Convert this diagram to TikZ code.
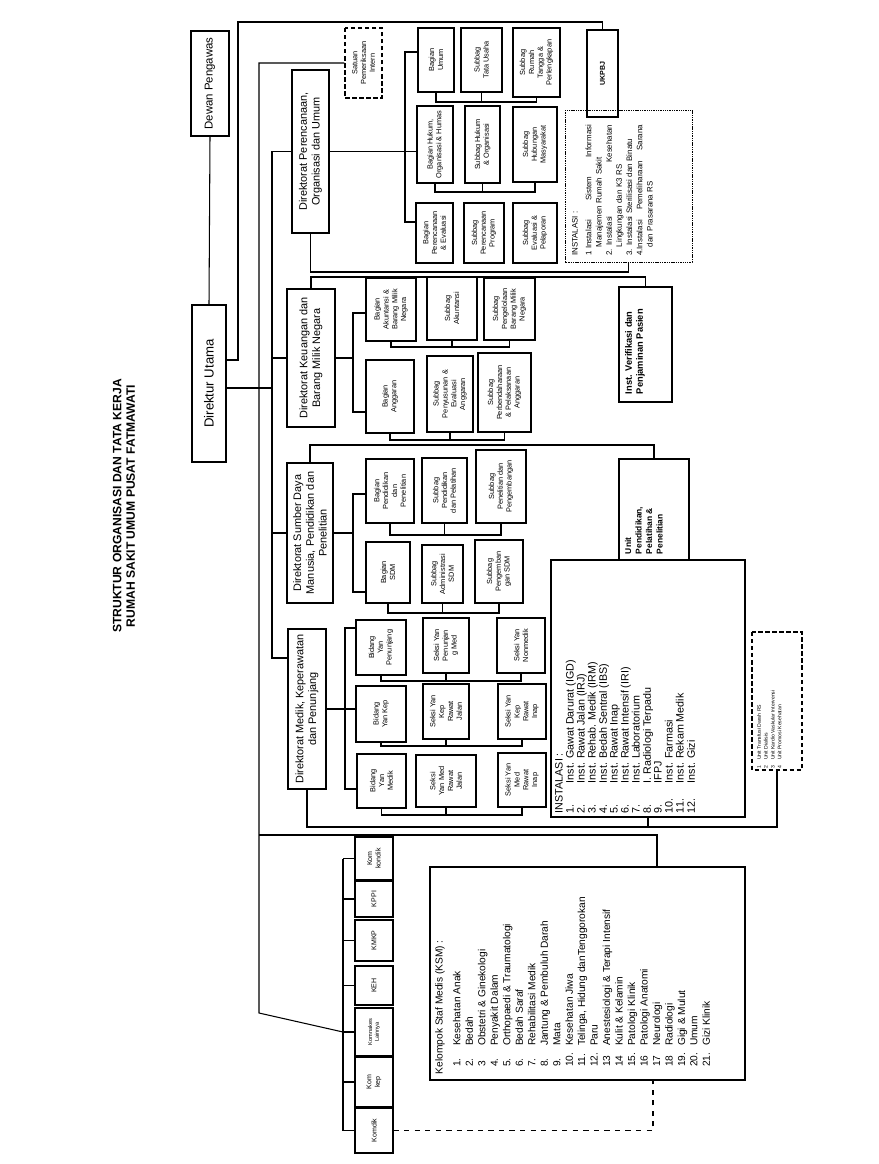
\documentclass[tikz,border=0pt]{standalone}
\usepackage{fontspec}
\setmainfont{Liberation Sans}
\usetikzlibrary{positioning}

% a box given by its corners in the scan (x1,y1,x2,y2), text read bottom to top
\newcommand{\orgbox}[7][]{%
  \node[rbox,#1,minimum width={(#6-#4)*0.02cm},minimum height={(#5-#3)*0.02cm}]
    (#2) at ({(#3+#5)/2},{(#4+#6)/2}) {#7};%
}
% bracket joining a row of three boxes below them
\newcommand{\subbrace}[4]{%
  \draw (#1.west) |- (#3.west |- 0,#4) -- (#3.west);
  \draw (#2.west) -- (#2.west |- 0,#4);%
}

\begin{document}
\begin{tikzpicture}[x=0.02cm, y=-0.02cm, line width=0.6pt,
    rbox/.style={draw, rotate=90, align=center, inner sep=0.5pt,
      font=\fontsize{4.2}{5}\selectfont},
    dirbox/.style={font=\fontsize{6.2}{7.2}\selectfont},
    topbox/.style={font=\fontsize{7.5}{9}\selectfont},
    kombox/.style={font=\fontsize{4}{4.8}\selectfont},
    dashbox/.style={dash pattern=on 2.5pt off 1.5pt},
    dotbox/.style={dash pattern=on 0.8pt off 0.5pt, line width=0.4pt},
    rtext/.style={rotate=90, align=left, inner sep=0pt, anchor=north west}]
  \useasboundingbox (0,0) rectangle (879,1164);

  \node[rotate=90, align=center, font=\bfseries\fontsize{6.9}{7.6}\selectfont]
    (title) at (124,506) {STRUKTUR ORGANISASI DAN TATA KERJA\\RUMAH SAKIT UMUM PUSAT FATMAWATI};

  % top level
  \orgbox[font=\fontsize{6.5}{7.5}\selectfont]{DP}{191}{31}{229}{136}{Dewan Pengawas}
  \orgbox[topbox]{DU}{192}{305}{226}{462}{Direktur Utama}
  \orgbox[dashbox]{SPI}{345}{28}{382}{98}{Satuan\\Pemeriksaan\\Intern}
  \orgbox[font=\bfseries\fontsize{4}{5}\selectfont]{UK}{587}{30}{618}{117}{UKPBJ}

  % Direktorat Perencanaan, Organisasi dan Umum
  \orgbox[dirbox]{DPO}{292}{70}{329}{233}{Direktorat Perencanaan,\\Organisasi dan Umum}
  \orgbox{BU}{418}{28}{454}{92}{Bagian\\Umum}
  \orgbox{STU}{461}{28}{502}{92}{Subbag\\Tata Usaha}
  \orgbox{SRT}{513}{28}{560}{97}{Subbag\\Rumah\\Tangga \&\\Perlengkapan}
  \orgbox{BH}{417}{106}{453}{183}{Bagian Hukum,\\Organisasi \& Humas}
  \orgbox{SHO}{465}{106}{500}{183}{Subbag Hukum\\\& Organisasi}
  \orgbox{SHM}{513}{107}{557}{182}{Subbag\\Hubungan\\Masyarakat}
  \orgbox{BPE}{416}{203}{453}{263}{Bagian\\Perencanaan\\\& Evaluasi}
  \orgbox{SPP}{464}{203}{504}{263}{Subbag\\Perencanaan\\Program}
  \orgbox{SEP}{513}{203}{557}{263}{Subbag\\Evaluasi \&\\Pelaporan}
  \orgbox[dotbox]{INSU}{565}{110}{692}{262}{}
  \node[rtext, font=\fontsize{4.5}{5.8}\selectfont, text width=2.62cm]
    (INSUt) at ([shift={(7,-6)}]INSU.north west)
    {INSTALASI :\\[2pt]
     1 Instalasi \hfill Sistem \hfill Informasi\\
     \hspace*{5pt}Manajemen Rumah Sakit\\
     2. Instalasi \hfill Kesehatan\\
     \hspace*{5pt}Lingkungan dan K3 RS\\
     3. Instalasi Sterilisasi dan Binatu\\
     4.Instalasi \hfill Pemeliharaan \hfill Sarana\\
     \hspace*{5pt}dan Prasarana RS};

  % Direktorat Keuangan dan Barang Milik Negara
  \orgbox[dirbox]{DK}{287}{289}{335}{427}{Direktorat Keuangan dan\\Barang Milik Negara}
  \orgbox{BAK}{366}{278}{416}{341}{Bagian\\Akuntansi \&\\Barang Milik\\Negara}
  \orgbox{SAK}{427}{277}{477}{340}{Subbag\\Akuntansi}
  \orgbox{SPBM}{484}{278}{535}{340}{Subbag\\Pengelolaan\\Barang Milik\\Negara}
  \orgbox{BAG}{366}{360}{414}{433}{Bagian\\Anggaran}
  \orgbox{SPEA}{427}{356}{473}{432}{Subbag\\Penyusunan \&\\Evaluasi\\Anggaran}
  \orgbox{SPPA}{478}{353}{531}{432}{Subbag\\Perbendaharaan\\\& Pelaksanaan\\Anggaran}
  \orgbox{IVP}{619}{287}{672}{402}{}
  \node[rtext, font=\bfseries\fontsize{5.3}{6.4}\selectfont]
    (IVPt) at ([shift={(6,-8)}]IVP.north west) {Inst. Verifikasi dan\\Penjaminan Pasien};

  % Direktorat SDM, Pendidikan dan Penelitian
  \orgbox[dirbox]{DS}{287}{463}{333}{603}{Direktorat Sumber Daya\\Manusia, Pendidikan dan\\Penelitian}
  \orgbox{BPP}{366}{459}{414}{523}{Bagian\\Pendidikan\\dan\\Penelitian}
  \orgbox{SPDL}{422}{458}{467}{523}{Subbag\\Pendidikan\\dan Pelatihan}
  \orgbox{SPLG}{476}{450}{526}{523}{Subbag\\Penelitian dan\\Pengembangan}
  \orgbox{BSDM}{366}{542}{410}{603}{Bagian\\SDM}
  \orgbox{SADM}{422}{545}{463}{603}{Subbag\\Administrasi\\SDM}
  \orgbox{SPSDM}{475}{540}{523}{603}{Subbag\\Pengemban\\gan SDM}
  \orgbox{UPP}{619}{459}{689}{560}{}
  \node[rtext, font=\bfseries\fontsize{4.8}{6}\selectfont]
    (UPPt) at ([shift={(6,-6)}]UPP.north west) {Unit\\Pendidikan,\\Pelatihan \&\\Penelitian};

  % Direktorat Medik, Keperawatan dan Penunjang
  \orgbox[dirbox]{DM}{288}{629}{326}{789}{Direktorat Medik, Keperawatan\\dan Penunjang}
  \orgbox{BYP}{356}{620}{406}{675}{Bidang\\Yan\\Penunjang}
  \orgbox{SYPM}{423}{618}{469}{673}{Seksi Yan\\Penunjan\\g Med}
  \orgbox{SYN}{497}{618}{545}{673}{Seksi Yan\\Nonmedik}
  \orgbox{BYK}{356}{686}{406}{742}{Bidang\\Yan Kep}
  \orgbox{SKRJ}{423}{684}{469}{739}{Seksi Yan\\Kep\\Rawat\\Jalan}
  \orgbox{SKRI}{498}{684}{546}{739}{Seksi Yan\\Kep\\Rawat\\Inap}
  \orgbox{BYM}{357}{754}{406}{808}{Bidang\\Yan\\Medik}
  \orgbox{SMRJ}{416}{755}{476}{807}{Seksi\\Yan Med\\Rawat\\Jalan}
  \orgbox{SMRI}{498}{753}{546}{807}{Seksi Yan\\Med\\Rawat\\Inap}
  \orgbox{INSM}{551}{560}{745}{817}{}
  \node[rtext, font=\fontsize{6.1}{6.2}\selectfont]
    (INSMt) at ([shift={(4,-4)}]INSM.north west)
    {\begin{tabular}{@{}p{17pt}@{}l@{}}
      \multicolumn{2}{@{}l@{}}{INSTALASI :}\\
      1. & Inst. Gawat Darurat (IGD)\\
      2. & Inst. Rawat Jalan (IRJ)\\
      3. & Inst. Rehab. Medik (IRM)\\
      4. & Inst. Bedah Sentral (IBS)\\
      5. & Inst. Rawat Inap\\
      6. & Inst. Rawat Intensif (IRI)\\
      7. & Inst. Laboratorium\\
      8. & I. Radiologi Terpadu\\
      9. & IFPJ\\
      10. & Inst. Farmasi\\
      11. & Inst. Rekam Medik\\
      12. & Inst. Gizi
    \end{tabular}};
  \orgbox[dashbox]{UNT}{752}{632}{802}{770}{}
  \node[rtext, font=\fontsize{2.9}{3.9}\selectfont]
    (UNTt) at ([shift={(4,-2)}]UNT.north west)
    {\begin{tabular}{@{}l@{\hspace{3pt}}l@{}}
      1 & Unit Transfusi Darah RS\\
      2 & Unit Dialisis\\
      3 & Unit Kardio Vaskular Intervensi\\
      4 & Unit Promosi Kesehatan
    \end{tabular}};

  % Kelompok Staf Medis
  \orgbox{KSM}{430}{867}{745}{1080}{}
  \node[rtext, font=\fontsize{5.8}{7.1}\selectfont]
    (KSMt) at ([shift={(4,-6)}]KSM.north west)
    {\begin{tabular}{@{\hspace{4pt}}p{12pt}@{}l@{}}
      \multicolumn{2}{@{}l@{}}{Kelompok Staf Medis (KSM) :}\\[3pt]
      1. & Kesehatan Anak\\
      2. & Bedah\\
      3 & Obstetri \& Ginekologi\\
      4. & Penyakit Dalam\\
      5. & Orthopaedi \& Traumatologi\\
      6. & Bedah Saraf\\
      7. & Rehabilitasi Medik\\
      8. & Jantung \& Pembuluh Darah\\
      9. & Mata\\
      10. & Kesehatan Jiwa\\
      11. & Telinga, Hidung danTenggorokan\\
      12. & Paru\\
      13 & Anestesiologi \& Terapi Intensif\\
      14 & Kulit \& Kelamin\\
      15. & Patologi Klinik\\
      16 & Patologi Anatomi\\
      17 & Neurologi\\
      18 & Radiologi\\
      19. & Gigi \& Mulut\\
      20. & Umum\\
      21. & Gizi Klinik
    \end{tabular}};

  % Komite
  \orgbox[kombox]{KK}{355}{837}{393}{880}{Kom\\kondik}
  \orgbox[kombox]{KPPI}{355}{881}{393}{917}{KPPI}
  \orgbox[kombox]{KMKP}{355}{920}{393}{961}{KMKP}
  \orgbox[kombox]{KEH}{355}{966}{393}{1005}{KEH}
  \orgbox[font=\fontsize{3.2}{3.9}\selectfont]{KNL}{355}{1008}{393}{1056}{Komnakes\\Lainnya}
  \orgbox[kombox]{KKP}{355}{1057}{393}{1107}{Kom\\kep}
  \orgbox[kombox]{KDK}{355}{1108}{393}{1153}{Komdik}

  % connectors from the top
  \coordinate (spA) at (259,63);
  \coordinate (spB) at (259,1013);
  \coordinate (spC) at (272,152);
  \draw (DP.west) -- (DU.east);
  \draw (DU.south |- 0,360) -| (238,22) -| (UK.east);
  \draw (DU.south |- 0,388) -- (272,388);
  \draw (SPI.north) -| (spB) -- (KNL.north -| 343,0);
  \draw (DPO.north) -| (272,658) -- (DM.north |- 0,658);
  \draw (DK.north -| spC) -- (DK.north);
  \draw (DS.north -| spC) -- (DS.north);
  \draw (259,835) -| (KSM.east -| 657,0);
  \draw[dashed] (KDK.south) -| (KSM.west -| 653,0);

  % staff units and instalasi
  \draw (DPO.west) |- (INSU.west |- 0,272) -- (INSU.west);
  \draw (DK.east) |- (IVP.east |- 0,277) -- (IVP.east);
  \draw (DS.east) |- (UPP.east |- 0,445) -- (UPP.east);
  \draw (DM.west) |- (UNT.west |- 0,827) -- (UNT.west);
  \draw (INSM.west) -- (INSM.west |- 0,827);

  % Perencanaan
  \draw (DPO.south) -- (BH.north |- DPO.south);
  \draw (BU.north |- 0,52) -| (405,222) -- (BPE.north |- 0,222);
  \subbrace{BU}{STU}{SRT}{102}
  \subbrace{BH}{SHO}{SHM}{192}

  % Keuangan
  \draw (DK.south) -- (353,358);
  \draw (BAK.north |- 0,313) -| (353,412) -- (BAG.north |- 0,412);
  \subbrace{BAK}{SAK}{SPBM}{347}
  \subbrace{BAG}{SPEA}{SPPA}{440}

  % SDM
  \draw (DS.south) -- (353,533);
  \draw (BPP.north |- 0,494) -| (353,592) -- (BSDM.north |- 0,592);
  \subbrace{BPP}{SPDL}{SPLG}{535}
  \subbrace{BSDM}{SADM}{SPSDM}{613}

  % Medik
  \draw (DM.south) -- (BYK.north |- DM.south);
  \draw (BYP.north |- 0,628) -| (345,789) -- (BYM.north |- 0,789);
  \subbrace{BYP}{SYPM}{SYN}{681}
  \subbrace{BYK}{SKRJ}{SKRI}{746}
  \subbrace{BYM}{SMRJ}{SMRI}{815}

  % Komite
  \draw (KK.north -| 343,0) -- (KDK.north -| 343,0);
  \foreach \k in {KK,KPPI,KMKP,KEH,KNL,KKP,KDK}
    \draw (\k.north) -- (\k.north -| 343,0);
\end{tikzpicture}
\end{document}
